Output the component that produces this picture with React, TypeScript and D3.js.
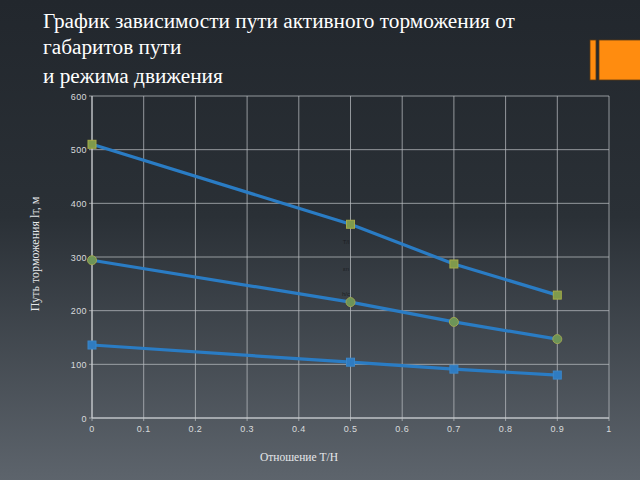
import React from "react";
import * as d3 from "d3";

const xValues = [0, 0.5, 0.7, 0.9];
const seriesTop = [510, 361, 287, 229];
const seriesMid = [294, 216, 179, 147];
const seriesLow = [136, 104, 91, 80];
const xTicks = [0, 0.1, 0.2, 0.3, 0.4, 0.5, 0.6, 0.7, 0.8, 0.9, 1];
const yTicks = [0, 100, 200, 300, 400, 500, 600];
const titleLines = [
  "График зависимости пути активного торможения от",
  "габаритов пути",
  "и режима движения",
];
const midLabels = ["T/l", "εn", "h/c"];

export default function App() {
  const W = 640, H = 480;
  const x = d3.scaleLinear().domain([0, 1]).range([92, 609]);
  const y = d3.scaleLinear().domain([0, 600]).range([418, 96]);
  const line = d3
    .line<number>()
    .x((_, i) => x(xValues[i]))
    .y((d) => y(d));

  const series = [
    { vals: seriesTop, marker: "square", fill: "#7f9a4c", stroke: "#a6ab48" },
    { vals: seriesMid, marker: "circle", fill: "#6d9458", stroke: "#9ea552" },
    { vals: seriesLow, marker: "square", fill: "#2f7cc2", stroke: "#3b86c8" },
  ];

  return (
    <svg
      width={W}
      height={H}
      style={{ position: "absolute", left: 0, top: 0, display: "block" }}
    >
      <defs>
        <linearGradient id="bg" x1="0" y1="0" x2="0" y2="1">
          <stop offset="0" stopColor="#22272d" />
          <stop offset="0.45" stopColor="#2a3036" />
          <stop offset="1" stopColor="#5d646c" />
        </linearGradient>
      </defs>
      <rect x={0} y={0} width={W} height={H} fill="url(#bg)" />

      {titleLines.map((t, i) => (
        <text
          key={i}
          x={43}
          y={[28, 54, 83][i]}
          fill="#ffffff"
          fontFamily="'Liberation Serif', 'DejaVu Serif', serif"
          fontSize={21.3}
        >
          {t}
        </text>
      ))}

      <rect x={590} y={40} width={6} height={40} fill="#ff8c0f" stroke="#5a3a14" strokeWidth={0.8} />
      <rect x={599} y={40} width={42} height={40} fill="#ff8c0f" stroke="#5a3a14" strokeWidth={0.8} />

      {xTicks.map((t) => (
        <line
          key={"gx" + t}
          x1={x(t)}
          x2={x(t)}
          y1={y(600)}
          y2={y(0) + 3}
          stroke="#b8bcc0"
          strokeOpacity={0.75}
          strokeWidth={1}
        />
      ))}
      {yTicks.map((t) => (
        <line
          key={"gy" + t}
          x1={x(0) - 3}
          x2={x(1)}
          y1={y(t)}
          y2={y(t)}
          stroke="#b8bcc0"
          strokeOpacity={0.75}
          strokeWidth={1}
        />
      ))}
      <line x1={x(0)} x2={x(0)} y1={y(600)} y2={y(0)} stroke="#d0d3d6" strokeWidth={1} />
      <line x1={x(0)} x2={x(1)} y1={y(0)} y2={y(0)} stroke="#d0d3d6" strokeWidth={1} />

      {yTicks.map((t) => (
        <text
          key={"ty" + t}
          x={x(0) - 5}
          y={y(t) + 3.5}
          textAnchor="end"
          fill="#d8dadc"
          fontFamily="'Liberation Sans', Arial, sans-serif"
          fontSize={9}
          letterSpacing={0.4}
        >
          {t}
        </text>
      ))}
      {xTicks.map((t) => (
        <text
          key={"tx" + t}
          x={x(t)}
          y={432}
          textAnchor="middle"
          fill="#d8dadc"
          fontFamily="'Liberation Sans', Arial, sans-serif"
          fontSize={9}
          letterSpacing={0.4}
        >
          {String(t)}
        </text>
      ))}

      {series.map((s, si) => (
        <g key={"s" + si}>
          <path d={line(s.vals) || ""} fill="none" stroke="#2a7cc4" strokeWidth={3.2} />
          {s.vals.map((v, i) => {
            const cx = x(xValues[i]);
            const cy = y(v);
            return s.marker === "square" ? (
              <rect
                key={i}
                x={cx - 4}
                y={cy - 4}
                width={8}
                height={8}
                fill={s.fill}
                stroke={s.stroke}
                strokeWidth={1}
              />
            ) : (
              <circle key={i} cx={cx} cy={cy} r={4.5} fill={s.fill} stroke={s.stroke} strokeWidth={1} />
            );
          })}
        </g>
      ))}

      {midLabels.map((t, i) => (
        <text
          key={"ml" + i}
          x={346}
          y={[244, 271, 296][i]}
          textAnchor="middle"
          fill="#1c1f23"
          fontFamily="'Liberation Sans', Arial, sans-serif"
          fontSize={6}
        >
          {t}
        </text>
      ))}

      <text
        transform={`translate(39, 254) rotate(-90)`}
        textAnchor="middle"
        fill="#e6e8ea"
        fontFamily="'Liberation Serif', 'DejaVu Serif', serif"
        fontSize={12}
      >
        Путь торможения lт, м
      </text>
      <text
        x={299}
        y={461}
        textAnchor="middle"
        fill="#e6e8ea"
        fontFamily="'Liberation Serif', 'DejaVu Serif', serif"
        fontSize={11.5}
      >
        Отношение Т/Н
      </text>
    </svg>
  );
}
